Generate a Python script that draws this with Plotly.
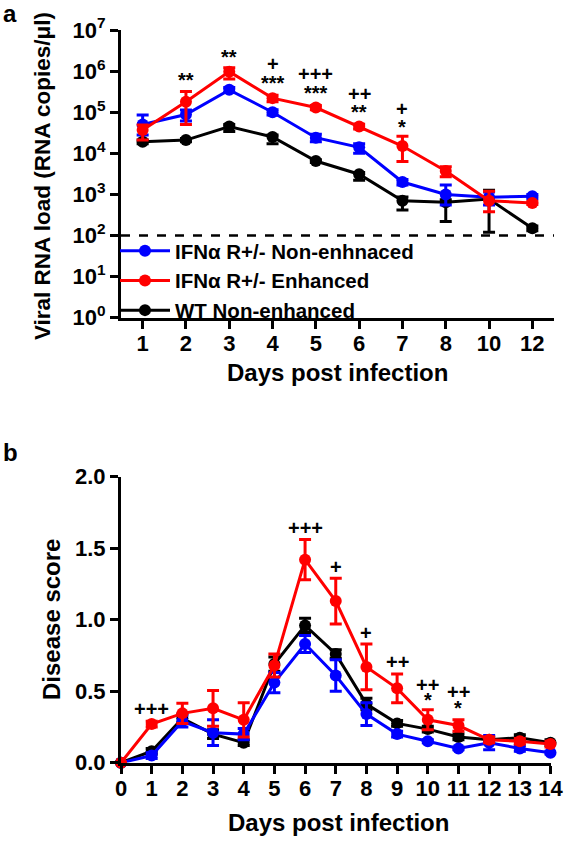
import numpy as np
import plotly.graph_objects as go

W, H = 566, 843
FONT = "Liberation Sans, Arial, sans-serif"


def px(x):
    return x / W


def py(y):
    return 1 - y / H


# ---------------- Panel a data ----------------
days_a = ["1", "2", "3", "4", "5", "6", "7", "8", "10", "12"]
blue_a = [5.0e4, 8.8e4, 3.5e5, 1.0e5, 2.4e4, 1.4e4, 2.0e3, 1.0e3, 8.5e2, 9.0e2]
blue_a_up = [3.6e4, 2.5e4, 5e4, 1.5e4, 5e3, 3e3, 3e2, 7e2, 3e2, 1e2]
blue_a_dn = [2.2e4, 2.7e4, 5e4, 1.5e4, 5e3, 4e3, 3e2, 4.5e2, 3e2, 1e2]
red_a = [3.7e4, 1.8e5, 9.7e5, 2.2e5, 1.3e5, 4.5e4, 1.5e4, 3.7e3, 7.0e2, 6.2e2]
red_a_up = [1.2e4, 1.4e5, 2.3e5, 4e4, 1.5e4, 6e3, 1.1e4, 1e3, 5e2, 5e1]
red_a_dn = [1.6e4, 1.3e5, 3.3e5, 4e4, 1.5e4, 6e3, 8.7e3, 1e3, 3.2e2, 5e1]
black_a = [1.9e4, 2.1e4, 4.5e4, 2.5e4, 6.5e3, 3.1e3, 7.0e2, 6.4e2, 7.7e2, 1.5e2]
black_a_up = [2e3, 2e3, 5e3, 3e3, 5e2, 3e2, 1.7e2, 1e2, 5e2, 2e1]
black_a_dn = [2e3, 2e3, 1.1e4, 8e3, 5e2, 9e2, 2.8e2, 4.2e2, 6.5e2, 2e1]
detection_limit = 100
ytick_a_vals = [1, 10, 100, 1e3, 1e4, 1e5, 1e6, 1e7]
ytick_a_text = ["10<sup>0</sup>", "10<sup>1</sup>", "10<sup>2</sup>", "10<sup>3</sup>",
                "10<sup>4</sup>", "10<sup>5</sup>", "10<sup>6</sup>", "10<sup>7</sup>"]
sig_a_day = ["2", "3", "4", "4", "5", "5", "6", "6", "7", "7"]
sig_a_text = ["**", "**", "+", "***", "+++", "***", "++", "**", "+", "*"]
sig_a_pos = [6.0e5, 2.2e6, 1.5e6, 5.2e5, 8.5e5, 2.9e5, 2.8e5, 1.0e5, 1.2e5, 4.3e4]

# ---------------- Panel b data ----------------
days_b = list(range(15))
red_b = [0, 0.27, 0.345, 0.38, 0.30, 0.68, 1.42, 1.13, 0.67, 0.52, 0.30, 0.26, 0.16, 0.15, 0.13]
red_b_err = [0, 0.02, 0.07, 0.125, 0.12, 0.08, 0.14, 0.16, 0.16, 0.10, 0.07, 0.04, 0.02, 0.02, 0.02]
black_b = [0, 0.08, 0.31, 0.20, 0.14, 0.69, 0.96, 0.76, 0.41, 0.275, 0.235, 0.18, 0.16, 0.175, 0.14]
black_b_err = [0, 0.02, 0.03, 0.03, 0.02, 0.05, 0.05, 0.03, 0.04, 0.02, 0.02, 0.02, 0.02, 0.02, 0.02]
blue_b = [0, 0.05, 0.29, 0.21, 0.20, 0.56, 0.83, 0.61, 0.34, 0.20, 0.15, 0.10, 0.14, 0.10, 0.07]
blue_b_err = [0, 0.02, 0.04, 0.09, 0.04, 0.07, 0.06, 0.11, 0.08, 0.02, 0.01, 0.01, 0.05, 0.02, 0.01]
sig_b_day = [1, 6, 7, 8, 9, 10, 10, 11, 11]
sig_b_text = ["+++", "+++", "+", "+", "++", "++", "*", "++", "*"]
sig_b_pos = [0.375, 1.64, 1.37, 0.907, 0.706, 0.543, 0.437, 0.491, 0.382]

BLUE, RED, BLACK = "#0000FF", "#FF0000", "#000000"
series_names = ["IFN\u03b1 R+/- Non-enhnaced", "IFN\u03b1 R+/- Enhanced", "WT Non-enhanced"]

fig = go.Figure()
idx_a = list(range(len(days_a)))


def add_a(vals, up, dn, color, name, rank):
    fig.add_trace(go.Scatter(
        x=idx_a, y=vals, mode="lines+markers", name=name, legendrank=rank,
        line=dict(color=color, width=3), marker=dict(color=color, size=12),
        error_y=dict(type="data", array=up, arrayminus=dn, color=color, thickness=3, width=6),
        xaxis="x", yaxis="y", cliponaxis=False))


def add_b(vals, err, color):
    fig.add_trace(go.Scatter(
        x=days_b, y=vals, mode="lines+markers", showlegend=False,
        line=dict(color=color, width=3), marker=dict(color=color, size=12),
        error_y=dict(type="data", array=err, color=color, thickness=3, width=6),
        xaxis="x2", yaxis="y2", cliponaxis=False))


add_a(black_a, black_a_up, black_a_dn, BLACK, series_names[2], 3)
add_a(blue_a, blue_a_up, blue_a_dn, BLUE, series_names[0], 1)
add_a(red_a, red_a_up, red_a_dn, RED, series_names[1], 2)
add_b(black_b, black_b_err, BLACK)
add_b(blue_b, blue_b_err, BLUE)
add_b(red_b, red_b_err, RED)

sig_font = dict(size=20, color="black", family=FONT, weight="bold")
annotations = []
for d, t, v in zip(sig_a_day, sig_a_text, sig_a_pos):
    annotations.append(dict(x=days_a.index(d), y=np.log10(v), xref="x", yref="y", text=t,
                            xanchor="center", yanchor="middle", showarrow=False, font=sig_font))
for d, t, v in zip(sig_b_day, sig_b_text, sig_b_pos):
    annotations.append(dict(x=d, y=v, xref="x2", yref="y2", text=t,
                            xanchor="center", yanchor="middle", showarrow=False, font=sig_font))

title_font = dict(size=24, color="black", family=FONT, weight="bold")
annotations += [
    dict(x=px(10), y=py(14), text="a", font=title_font),
    dict(x=px(10), y=py(452), text="b", font=title_font),
    dict(x=px(42), y=py(176), text="Viral RNA load (RNA copies/\u03bcl)", textangle=-90,
         font=dict(size=22.5, color="black", family=FONT, weight="bold")),
    dict(x=px(337), y=py(372), text="Days post infection", font=title_font),
    dict(x=px(51), y=py(620), text="Disease score", textangle=-90, font=title_font),
    dict(x=px(338), y=py(822), text="Days post infection", font=title_font),
]
for a in annotations[-6:]:
    a.update(xref="paper", yref="paper", xanchor="center", yanchor="middle", showarrow=False)

tick_font = dict(size=22, color="black", family=FONT, weight="bold")
axis_common = dict(showline=True, linecolor="black", linewidth=3, ticks="outside", ticklen=8,
                   tickwidth=3, tickcolor="black", tickfont=tick_font, showgrid=False, zeroline=False,
                   automargin=False)

fig.update_layout(
    width=W, height=H, margin=dict(l=0, r=0, t=0, b=0, autoexpand=False),
    paper_bgcolor="white", plot_bgcolor="white",
    font=dict(family=FONT, color="black"),
    xaxis=dict(domain=[px(121), px(554)], range=[-0.5, 9.5], tickvals=idx_a, ticktext=days_a,
               anchor="y", ticklabelstandoff=-4, **axis_common),
    yaxis=dict(domain=[py(317.7), py(30)], type="log", range=[0, 7], tickvals=ytick_a_vals,
               ticktext=ytick_a_text, anchor="x", **axis_common),
    xaxis2=dict(domain=[px(121), px(550.5)], range=[0, 14], dtick=1, tick0=0, anchor="y2",
                ticklabelstandoff=-4, **axis_common),
    yaxis2=dict(domain=[py(762.7), py(476.7)], range=[0, 2], dtick=0.5, tick0=0, tickformat=".1f",
                anchor="x2", **axis_common),
    legend=dict(x=px(115), y=py(231), xanchor="left", yanchor="top", bgcolor="rgba(0,0,0,0)",
                font=dict(size=20.5, color="black", family=FONT, weight="bold"), itemwidth=50,
                tracegroupgap=0),
    annotations=annotations,
    shapes=[dict(type="line", xref="x domain", yref="y", x0=0, x1=1,
                 y0=detection_limit, y1=detection_limit,
                 line=dict(color="black", width=2.5, dash="dash"))],
    showlegend=True,
)

# remove the default 8px page margin so the 566x843 figure fills the window exactly
fig.write_html("out.html", config={"displayModeBar": False},
               post_script="document.body.style.margin='0px';")
